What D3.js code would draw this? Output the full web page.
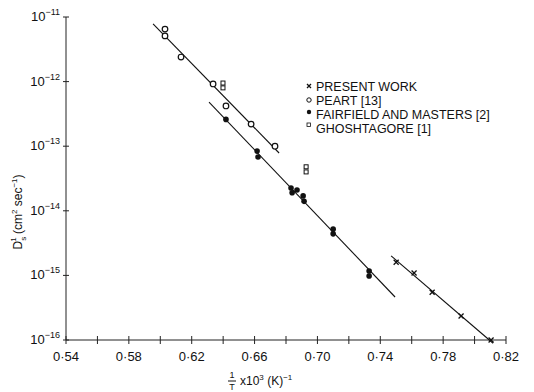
<!DOCTYPE html>
<html>
<head>
<meta charset="utf-8">
<script src="https://cdn.jsdelivr.net/npm/d3@7"></script>
<style>
body { margin: 0; background: #fff; }
text { font-family: "Liberation Sans", Arial, sans-serif; fill: #111; }
</style>
</head>
<body>
<svg id="chart" width="534" height="392"></svg>
<script>
// data: x = 1/T x10^3, y = D
var presentX = [0.7501, 0.7615, 0.7730, 0.7914, 0.8105];
var presentY = [1.6e-15, 1.09e-15, 5.5e-16, 2.35e-16, 1.0e-16];
var peartX = [0.603, 0.603, 0.6132, 0.6336, 0.6418, 0.6578, 0.673];
var peartY = [6.5e-12, 5.1e-12, 2.4e-12, 9.2e-13, 4.2e-13, 2.2e-13, 1.0e-13];
var fmX = [0.6418, 0.6616, 0.6622, 0.6832, 0.6839, 0.6870, 0.6909, 0.6915, 0.7100, 0.7100, 0.7329, 0.7329];
var fmY = [2.6e-13, 8.4e-14, 6.8e-14, 2.25e-14, 1.9e-14, 2.1e-14, 1.7e-14, 1.4e-14, 5.2e-15, 4.4e-15, 1.17e-15, 9.8e-16];
var ghX = [0.6399, 0.6399, 0.6928, 0.6928];
var ghY = [9.5e-13, 8.0e-13, 4.8e-14, 4.0e-14];
// fitted lines (end points)
var peartLine = [[0.5954, 7.8e-12], [0.6756, 7.85e-14]];
var fmLine = [[0.631, 4.83e-13], [0.7494, 4.63e-16]];
var presentLine = [[0.7469, 2.0e-15], [0.8118, 8.9e-17]];
var xTicks = [0.54, 0.56, 0.58, 0.60, 0.62, 0.64, 0.66, 0.68, 0.70, 0.72, 0.74, 0.76, 0.78, 0.80, 0.82];
var xLabels = [0.54, 0.58, 0.62, 0.66, 0.70, 0.74, 0.78, 0.82];
var yTicks = [1e-16, 1e-15, 1e-14, 1e-13, 1e-12, 1e-11];
var legendNames = ["PRESENT WORK", "PEART [13]", "FAIRFIELD AND MASTERS [2]", "GHOSHTAGORE [1]"];

var svg = d3.select("#chart");
var x = d3.scaleLinear().domain([0.54, 0.82]).range([66, 506]);
var y = d3.scaleLog().domain([1e-16, 1e-11]).range([340, 17]);

// axes
svg.append("line").attr("x1", x(0.54)).attr("x2", x(0.82)).attr("y1", y(1e-16)).attr("y2", y(1e-16))
  .style("stroke", "#222").style("stroke-width", 1);
svg.append("line").attr("x1", x(0.54)).attr("x2", x(0.54)).attr("y1", y(1e-16)).attr("y2", y(1e-11))
  .style("stroke", "#222").style("stroke-width", 1);

svg.selectAll(".xt").data(xTicks).enter().append("line")
  .attr("x1", d => x(d)).attr("x2", d => x(d)).attr("y1", y(1e-16) - 4).attr("y2", y(1e-16) + 4)
  .style("stroke", "#222");
svg.selectAll(".xl").data(xLabels).enter().append("text")
  .attr("x", d => x(d)).attr("y", y(1e-16) + 21).attr("text-anchor", "middle")
  .style("font-size", "13px").text(d => "0·" + d3.format(".2f")(d).slice(2));

svg.selectAll(".yt").data(yTicks).enter().append("line")
  .attr("x1", x(0.54) - 3).attr("x2", x(0.54) + 3).attr("y1", d => y(d)).attr("y2", d => y(d))
  .style("stroke", "#222");
var yl = svg.selectAll(".yl").data(yTicks).enter().append("text")
  .attr("x", x(0.54) - 6).attr("y", d => y(d) + 4).attr("text-anchor", "end")
  .style("font-size", "13px");
yl.append("tspan").text("10");
yl.append("tspan").attr("dy", -6).style("font-size", "9px").text(d => "−" + Math.round(-Math.log10(d)));

// fitted lines
[peartLine, fmLine, presentLine].forEach(function(l) {
  svg.append("line").attr("x1", x(l[0][0])).attr("y1", y(l[0][1])).attr("x2", x(l[1][0])).attr("y2", y(l[1][1]))
    .style("stroke", "#111").style("stroke-width", 1.1);
});

// markers
function cross(g, cx, cy, s) {
  g.append("path").attr("d", "M" + (cx - s) + "," + (cy - s) + "L" + (cx + s) + "," + (cy + s) +
    "M" + (cx - s) + "," + (cy + s) + "L" + (cx + s) + "," + (cy - s))
    .style("stroke", "#111").style("stroke-width", 1.3).style("fill", "none");
}
presentX.forEach(function(d, i) { cross(svg, x(d), y(presentY[i]), 2.5); });
svg.selectAll(".peart").data(peartX).enter().append("circle")
  .attr("cx", d => x(d)).attr("cy", (d, i) => y(peartY[i])).attr("r", 2.8)
  .style("fill", "#fff").style("stroke", "#111").style("stroke-width", 1.2);
svg.selectAll(".fm").data(fmX).enter().append("circle")
  .attr("cx", d => x(d)).attr("cy", (d, i) => y(fmY[i])).attr("r", 2.8)
  .style("fill", "#111");
svg.selectAll(".gh").data(ghX).enter().append("rect")
  .attr("x", d => x(d) - 2).attr("y", (d, i) => y(ghY[i]) - 2).attr("width", 4).attr("height", 4)
  .style("fill", "#fff").style("stroke", "#111").style("stroke-width", 1);

// legend
var lx = 309, ly = 86, dy = 14;
cross(svg, lx, ly, 2);
svg.append("circle").attr("cx", lx).attr("cy", ly + dy).attr("r", 2.2).style("fill", "#fff").style("stroke", "#111");
svg.append("circle").attr("cx", lx).attr("cy", ly + 2 * dy - 2).attr("r", 2.2).style("fill", "#111");
svg.append("rect").attr("x", lx - 2).attr("y", ly + 3 * dy - 5).attr("width", 3.5).attr("height", 3.5)
  .style("fill", "#fff").style("stroke", "#111").style("stroke-width", 0.8);
svg.selectAll(".leg").data(legendNames).enter().append("text")
  .attr("x", lx + 7).attr("y", (d, i) => ly + i * dy + 4.5)
  .style("font-size", "12.5px").text(d => d);

// y axis title
var yt = svg.append("text").attr("transform", "translate(22,212) rotate(-90)").attr("text-anchor", "middle")
  .style("font-size", "12px");
yt.append("tspan").text("D");
yt.append("tspan").attr("dy", 4).style("font-size", "8px").text("s");
yt.append("tspan").attr("dx", -5).attr("dy", -10).style("font-size", "8px").text("1");
yt.append("tspan").attr("dy", 6).text(" (cm");
yt.append("tspan").attr("dy", -5).style("font-size", "8px").text("2");
yt.append("tspan").attr("dy", 5).text(" sec");
yt.append("tspan").attr("dy", -5).style("font-size", "8px").text("−1");
yt.append("tspan").attr("dy", 5).text(")");

// x axis title
svg.append("text").attr("x", 232).attr("y", 378).attr("text-anchor", "middle").style("font-size", "9px").text("1");
svg.append("line").attr("x1", 228).attr("x2", 236).attr("y1", 381).attr("y2", 381).style("stroke", "#111");
svg.append("text").attr("x", 232).attr("y", 390).attr("text-anchor", "middle").style("font-size", "9px").text("T");
var xt = svg.append("text").attr("x", 240).attr("y", 385).style("font-size", "12px");
xt.append("tspan").text("x10");
xt.append("tspan").attr("dy", -5).style("font-size", "8px").text("3");
xt.append("tspan").attr("dy", 5).text(" (K)");
xt.append("tspan").attr("dy", -5).style("font-size", "8px").text("−1");
</script>
</body>
</html>
